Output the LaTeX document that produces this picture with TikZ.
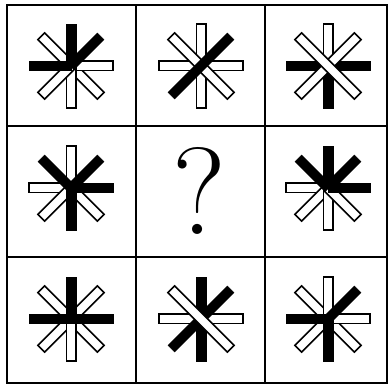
\documentclass[tikz,border=0pt]{standalone}
\begin{document}
\begin{tikzpicture}[x=1pt,y=1pt,
  blk/.style={fill=black, draw=black, line width=0.4pt},
  wht/.style={fill=white, draw=black, line width=1.6pt},
  gridline/.style={line width=2pt, draw=black}]
\useasboundingbox (0,0) rectangle (389,387);
% arm: #1 center coordinate, #2 angle, #3 from, #4 to, #5 style
\newcommand{\myarm}[5]{\path[#5, shift={#1}, rotate=#2] (#3,-4.7) rectangle (#4,4.7);}
% centers
\coordinate (c11) at (71,321); \coordinate (c12) at (201,321); \coordinate (c13) at (328,321);
\coordinate (c21) at (71,199);                                 \coordinate (c23) at (328,199);
\coordinate (c31) at (71,68);  \coordinate (c32) at (201,68);  \coordinate (c33) at (328,68);
% cell 1,1 : black N, NE, W
\myarm{(c11)}{135}{-42}{42}{wht}
\myarm{(c11)}{0}{0}{42}{wht}
\myarm{(c11)}{270}{0}{42}{wht}
\myarm{(c11)}{225}{0}{42}{wht}
\myarm{(c11)}{90}{0}{42}{blk}
\myarm{(c11)}{45}{0}{42}{blk}
\myarm{(c11)}{180}{0}{42}{blk}
% cell 1,2 : black NE-SW
\myarm{(c12)}{0}{-42}{42}{wht}
\myarm{(c12)}{90}{-42}{42}{wht}
\myarm{(c12)}{135}{-42}{42}{wht}
\myarm{(c12)}{45}{-42}{42}{blk}
% cell 1,3 : black horizontal, S
\myarm{(c13)}{0}{-42}{42}{blk}
\myarm{(c13)}{270}{0}{42}{blk}
\myarm{(c13)}{90}{0}{42}{wht}
\myarm{(c13)}{45}{-42}{42}{wht}
\myarm{(c13)}{135}{-42}{42}{wht}
% cell 2,1 : black NW, NE, E, S
\myarm{(c21)}{90}{0}{42}{wht}
\myarm{(c21)}{180}{0}{42}{wht}
\myarm{(c21)}{225}{0}{42}{wht}
\myarm{(c21)}{315}{0}{42}{wht}
\myarm{(c21)}{135}{0}{42}{blk}
\myarm{(c21)}{45}{0}{42}{blk}
\myarm{(c21)}{0}{0}{42}{blk}
\myarm{(c21)}{270}{0}{42}{blk}
% cell 2,3 : black N, NE, E, NW
\myarm{(c23)}{180}{0}{42}{wht}
\myarm{(c23)}{225}{0}{42}{wht}
\myarm{(c23)}{270}{0}{42}{wht}
\myarm{(c23)}{315}{0}{42}{wht}
\myarm{(c23)}{90}{0}{42}{blk}
\myarm{(c23)}{45}{0}{42}{blk}
\myarm{(c23)}{0}{0}{42}{blk}
\myarm{(c23)}{135}{0}{42}{blk}
% cell 3,1 : black horizontal, N
\myarm{(c31)}{45}{-42}{42}{wht}
\myarm{(c31)}{135}{-42}{42}{wht}
\myarm{(c31)}{270}{0}{42}{wht}
\myarm{(c31)}{90}{0}{42}{blk}
\myarm{(c31)}{0}{-42}{42}{blk}
% cell 3,2 : black vertical, NE-SW
\myarm{(c32)}{0}{-42}{42}{wht}
\myarm{(c32)}{90}{-42}{42}{blk}
\myarm{(c32)}{45}{-42}{42}{blk}
\myarm{(c32)}{135}{-42}{42}{wht}
% cell 3,3 : black S, W, NE
\myarm{(c33)}{135}{-42}{42}{wht}
\myarm{(c33)}{90}{0}{42}{wht}
\myarm{(c33)}{0}{0}{42}{wht}
\myarm{(c33)}{225}{0}{42}{wht}
\myarm{(c33)}{270}{0}{42}{blk}
\myarm{(c33)}{180}{0}{42}{blk}
\myarm{(c33)}{45}{0}{42}{blk}
% question mark
\node (q) at (199,196) {\fontsize{124}{124}\selectfont ?};
% grid
\draw[gridline] (7,4) rectangle (387,382);
\draw[gridline] (136,4) -- (136,382);
\draw[gridline] (265,4) -- (265,382);
\draw[gridline] (7,261) -- (387,261);
\draw[gridline] (7,130) -- (387,130);
\end{tikzpicture}
\end{document}
